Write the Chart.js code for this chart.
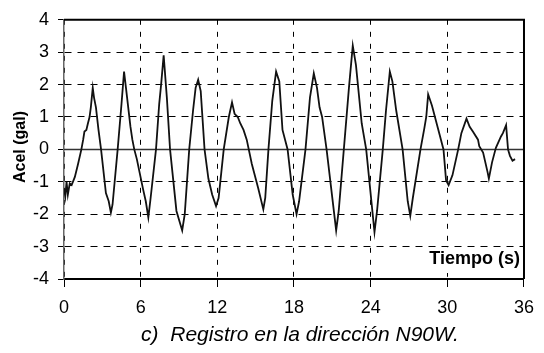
<!DOCTYPE html>
<html>
<head>
    <meta charset="utf-8">
    <title>Registro N90W</title>
    <script src="https://cdn.jsdelivr.net/npm/chart.js"></script>
    <style>
        body { margin: 0; background: #fff; }
        #wrap { width: 544px; height: 353px; }
    </style>
</head>
<body>
    <div id="wrap">
        <canvas id="acelChart" width="544" height="353"></canvas>
    </div>
    <script>
        var tiempo = [
            0.0, 0.1, 0.2, 0.3, 0.45, 0.6, 0.85, 1.1, 1.36, 1.5, 1.6, 1.75, 1.87, 2.0, 2.1, 2.25, 2.35, 2.5, 2.7, 2.9,
            3.28, 3.5, 3.67, 3.8, 4.2, 4.5, 4.7, 4.85, 5.2, 5.35, 5.5, 5.7, 6.2, 6.4, 6.6, 6.75, 7.2, 7.45, 7.6, 7.8,
            8.05, 8.3, 8.8, 9.25, 9.45, 9.8, 10.1, 10.3, 10.5, 10.7, 11.0, 11.3, 11.6, 11.9, 12.1, 12.5, 12.9, 13.15, 13.35, 13.6,
            13.8, 14.05, 14.3, 14.7, 15.2, 15.6, 15.75, 16.0, 16.3, 16.6, 16.85, 17.1, 17.5, 17.9, 18.2, 18.4, 18.9, 19.25, 19.55, 19.8,
            20.0, 20.2, 20.55, 21.3, 21.5, 21.9, 22.3, 22.6, 22.85, 23.3, 23.65, 24.3, 24.5, 24.95, 25.2, 25.5, 25.7, 26.0, 26.5, 26.9,
            27.1, 27.3, 27.9, 28.2, 28.35, 28.5, 28.8, 29.3, 29.7, 29.9, 30.1, 30.4, 30.85, 31.1, 31.5, 31.75, 32.0, 32.4, 32.5, 32.8,
            33.15, 33.25, 33.5, 33.8, 34.2, 34.35, 34.6, 34.75, 34.9, 35.1, 35.3
        ];
        var acel = [
            -1.2, -1.45, -1.0, -1.4, -1.05, -1.1, -0.85, -0.45, 0.0, 0.3, 0.55, 0.6, 0.8, 1.0, 1.3, 1.9, 1.6, 1.3, 0.6, 0.0,
            -1.35, -1.6, -1.95, -1.7, 0.0, 1.4, 2.4, 1.9, 0.7, 0.3, 0.0, -0.3, -1.25, -1.6, -2.1, -1.6, 0.0, 1.4, 2.0, 2.9,
            1.6, 0.0, -1.9, -2.5, -2.0, 0.0, 1.2, 1.9, 2.15, 1.8, 0.0, -0.9, -1.4, -1.75, -1.5, 0.0, 1.0, 1.45, 1.1, 1.0,
            0.8, 0.6, 0.3, -0.45, -1.2, -1.85, -1.5, 0.0, 1.5, 2.4, 2.1, 0.6, 0.0, -1.4, -2.0, -1.6, 0.0, 1.6, 2.35, 1.9,
            1.3, 1.0, 0.0, -2.5, -1.9, 0.0, 1.9, 3.2, 2.6, 0.8, 0.0, -2.55, -1.9, 0.0, 1.2, 2.4, 2.1, 1.2, 0.0, -1.6,
            -2.05, -1.5, 0.0, 0.65, 1.0, 1.7, 1.35, 0.6, 0.0, -0.95, -1.1, -0.8, 0.0, 0.5, 0.95, 0.7, 0.55, 0.3, 0.1, -0.1,
            -0.7, -0.9, -0.4, 0.05, 0.4, 0.5, 0.75, 0.0, -0.2, -0.35, -0.3
        ];
        var xTicks = [0, 6, 12, 18, 24, 30, 36];
        var yTicks = [-4, -3, -2, -1, 0, 1, 2, 3, 4];

        var fontFam = '"Liberation Sans", Arial, sans-serif';

        var puntos = tiempo.map(function(t, i) { return {x: t, y: acel[i]}; });

        var extras = {
            id: 'extras',
            beforeDatasetsDraw: function(chart) {
                var ctx = chart.ctx;
                var a = chart.chartArea;
                var y0 = chart.scales.y.getPixelForValue(0);
                ctx.save();
                ctx.strokeStyle = '#333';
                ctx.lineWidth = 1.5;
                ctx.beginPath();
                ctx.moveTo(a.left, y0);
                ctx.lineTo(a.right, y0);
                ctx.stroke();
                ctx.restore();
            },
            afterDraw: function(chart) {
                var ctx = chart.ctx;
                var a = chart.chartArea;
                ctx.save();
                // marco superior y derecho
                ctx.strokeStyle = '#000';
                ctx.lineWidth = 2;
                ctx.beginPath();
                ctx.moveTo(a.left, a.top);
                ctx.lineTo(a.right, a.top);
                ctx.lineTo(a.right, a.bottom);
                ctx.stroke();

                // etiqueta Tiempo (s)
                ctx.font = 'bold 18px ' + fontFam;
                ctx.textAlign = 'right';
                ctx.textBaseline = 'middle';
                var w = ctx.measureText('Tiempo (s)').width;
                ctx.fillStyle = '#fff';
                ctx.fillRect(a.right - w - 6, a.bottom - 31, w + 5, 25);
                ctx.fillStyle = '#000';
                ctx.fillText('Tiempo (s)', a.right - 4, a.bottom - 20);

                // titulo eje y
                ctx.save();
                ctx.translate(21, 147);
                ctx.rotate(-Math.PI / 2);
                ctx.textAlign = 'center';
                ctx.font = 'bold 16px ' + fontFam;
                ctx.fillText('Acel (gal)', 0, 0);
                ctx.restore();

                // pie de figura
                ctx.font = 'italic 21px ' + fontFam;
                ctx.textAlign = 'center';
                ctx.textBaseline = 'alphabetic';
                ctx.fillText('c)  Registro en la dirección N90W.', 300, 341);
                ctx.restore();
            }
        };

        var ctx = document.getElementById('acelChart').getContext('2d');
        var chart = new Chart(ctx, {
            type: 'line',
            data: {
                datasets: [{
                    data: puntos,
                    borderColor: '#111',
                    borderWidth: 1.8,
                    pointRadius: 0,
                    tension: 0,
                    fill: false
                }]
            },
            options: {
                responsive: false,
                animation: false,
                devicePixelRatio: 1,
                layout: { padding: { left: 0, right: 12, top: 17, bottom: 0 } },
                plugins: { legend: { display: false }, tooltip: { enabled: false } },
                scales: {
                    x: {
                        type: 'linear',
                        min: 0,
                        max: 36,
                        afterFit: function(s) { s.height = 74; },
                        afterBuildTicks: function(s) { s.ticks = xTicks.map(function(v) { return {value: v}; }); },
                        ticks: { color: '#000', font: { size: 18, family: fontFam }, padding: 10, maxRotation: 0 },
                        grid: { color: '#000', lineWidth: 1, tickLength: 8, tickBorderDash: [] },
                        border: { color: '#000', width: 2, dash: [5, 7] }
                    },
                    y: {
                        min: -4,
                        max: 4,
                        afterFit: function(s) { s.width = 64; },
                        afterBuildTicks: function(s) { s.ticks = yTicks.map(function(v) { return {value: v}; }); },
                        ticks: { color: '#000', font: { size: 18, family: fontFam }, padding: 9 },
                        grid: { color: '#000', lineWidth: 1, tickLength: 6, tickBorderDash: [] },
                        border: { color: '#666', width: 1.5, dash: [7, 6] }
                    }
                }
            },
            plugins: [extras]
        });
    </script>
</body>
</html>
